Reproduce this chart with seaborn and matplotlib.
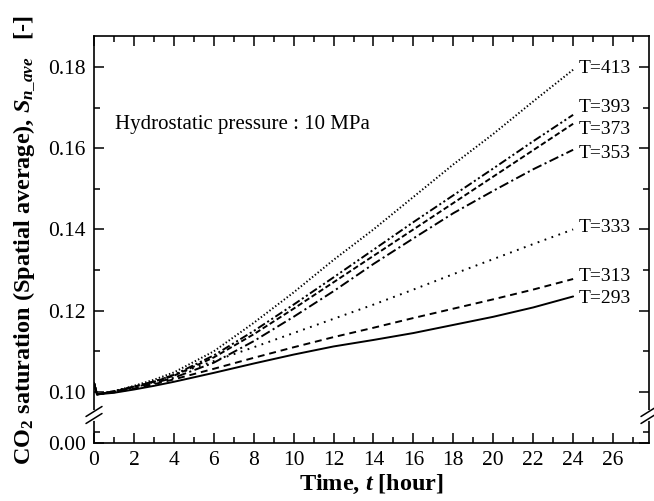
import matplotlib
matplotlib.use("Agg")
import matplotlib.pyplot as plt
import seaborn as sns
import pandas as pd

# ---------------- data ----------------
times = [0, 0.15, 1, 2, 3, 4, 6, 8, 10, 12, 14, 16, 18, 20, 22, 24]
s293 = [0.1022, 0.0994, 0.0998, 0.1006, 0.1015, 0.1025, 0.1047, 0.1070, 0.1092, 0.1112, 0.1128, 0.1145, 0.1165, 0.1185, 0.1208, 0.1235]
s313 = [0.1022, 0.0994, 0.0999, 0.1008, 0.1019, 0.1031, 0.1057, 0.1084, 0.1110, 0.1135, 0.1158, 0.1182, 0.1205, 0.1228, 0.1252, 0.1278]
s333 = [0.1022, 0.0994, 0.1000, 0.1010, 0.1025, 0.1042, 0.1076, 0.1110, 0.1145, 0.1180, 0.1215, 0.1252, 0.1290, 0.1327, 0.1364, 0.1400]
s353 = [0.1022, 0.0994, 0.1001, 0.1012, 0.1022, 0.1035, 0.1072, 0.1125, 0.1185, 0.1248, 0.1315, 0.1378, 0.1440, 0.1495, 0.1548, 0.1596]
s373 = [0.1022, 0.0994, 0.1001, 0.1013, 0.1025, 0.1040, 0.1085, 0.1142, 0.1205, 0.1270, 0.1335, 0.1400, 0.1465, 0.1530, 0.1595, 0.1660]
s393 = [0.1022, 0.0994, 0.1002, 0.1013, 0.1026, 0.1042, 0.1090, 0.1150, 0.1215, 0.1282, 0.1350, 0.1418, 0.1484, 0.1550, 0.1617, 0.1682]
s413 = [0.1022, 0.0994, 0.1002, 0.1015, 0.1030, 0.1048, 0.1100, 0.1170, 0.1245, 0.1325, 0.1400, 0.1480, 0.1560, 0.1635, 0.1715, 0.1793]
temps = ["293", "313", "333", "353", "373", "393", "413"]
series = [s293, s313, s333, s353, s373, s393, s413]
label_y = [0.1229, 0.1283, 0.1404, 0.1588, 0.1645, 0.1699, 0.1795]

x_ticks = list(range(0, 27, 2))
y_major = [0.10, 0.12, 0.14, 0.16, 0.18]
y_labels = ["0.10", "0.12", "0.14", "0.16", "0.18"]

# ---------------- style ----------------
sns.set_style("ticks")
plt.rcParams["font.family"] = ["Liberation Serif", "DejaVu Serif"]
plt.rcParams["mathtext.fontset"] = "custom"
plt.rcParams["mathtext.rm"] = "Liberation Serif:bold"
plt.rcParams["mathtext.bf"] = "Liberation Serif:bold"
plt.rcParams["mathtext.it"] = "Liberation Serif:italic:bold"
plt.rcParams["lines.scale_dashes"] = False
for key in ["text.color", "axes.labelcolor", "xtick.color", "ytick.color", "axes.edgecolor"]:
    plt.rcParams[key] = "black"

rows = []
for T, s in zip(temps, series):
    for t, v in zip(times, s):
        rows.append({"t": t, "S": v, "T": T})
df = pd.DataFrame(rows)

dashes = {
    "293": "",
    "313": (5, 3.5),
    "333": (1.3, 4),
    "353": (7, 2.5, 1.5, 2.5),
    "373": (4, 2),
    "393": (6, 2, 1.5, 2, 1.5, 2),
    "413": (1, 1.6),
}
palette = {T: "black" for T in temps}

fig = plt.figure(figsize=(6.54, 5.01), dpi=100)
ax = fig.add_axes([94 / 654, 1 - 443 / 501, (649 - 94) / 654, (443 - 36) / 501])

sns.lineplot(data=df, x="t", y="S", hue="T", style="T", palette=palette,
             dashes=dashes, legend=False, linewidth=1.4, ax=ax, errorbar=None)

y_zero = 0.08744   # axis position shown as 0.00 (broken axis)
ax.set_xlim(0, 27.8)
ax.set_ylim(y_zero, 0.1876)

ax.set_xticks(x_ticks)
ax.set_xticks([x + 1 for x in x_ticks], minor=True)
ax.set_yticks([y_zero] + y_major)
ax.set_yticklabels(["0.00"] + y_labels)
ax.set_yticks([0.09015, 0.11, 0.13, 0.15, 0.17], minor=True)

ax.tick_params(which="both", direction="in", top=True, right=True,
               labelsize=15.5, width=1.1, pad=6, colors="black")
ax.tick_params(which="major", length=7)
ax.tick_params(which="minor", length=4)
for sp in ax.spines.values():
    sp.set_linewidth(1.2)
    sp.set_color("black")

ax.set_xlabel(r"Time, $t$ [hour]", fontsize=17.5, fontweight="bold", labelpad=2)
ax.set_ylabel(r"CO$_2$ saturation (Spatial average), $S_{n\_ave}$   [-]",
              fontsize=17.5, fontweight="bold", labelpad=8)

ax.text(1.05, 0.1657, "Hydrostatic pressure : 10 MPa", fontsize=15, va="center")
for T, ly in zip(temps, label_y):
    ax.text(24.3, ly, f"T={T}", fontsize=14, va="center")

# axis break marks on both vertical spines
yb = (443 - 415) / 407
gap = 3.5 / 407
dx = 8 / 555
dy = 5 / 407
for xs in (0.0, 1.0):
    ax.plot([xs, xs], [yb - gap, yb + gap], color="white", lw=3,
            transform=ax.transAxes, clip_on=False, zorder=10)
    for off in (-gap, gap):
        ax.plot([xs - dx, xs + dx], [yb + off - dy, yb + off + dy], color="black",
                lw=1.1, transform=ax.transAxes, clip_on=False, zorder=11)

fig.savefig("out.png", dpi=100)
